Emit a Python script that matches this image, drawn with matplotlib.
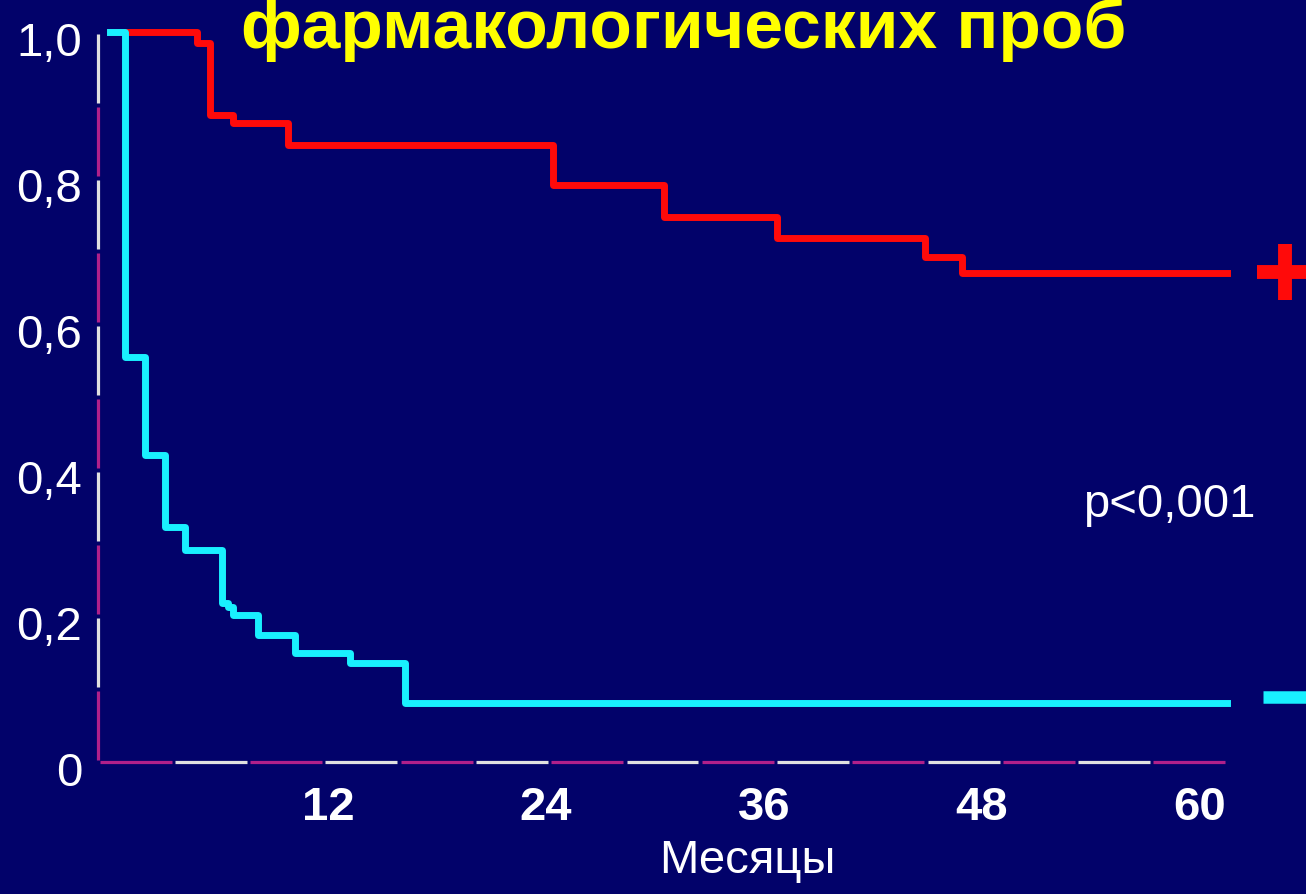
import numpy as np
import matplotlib
matplotlib.use("Agg")
import matplotlib.pyplot as plt
import matplotlib.transforms as mtransforms

# survival curves (months, proportion)
red_t = [0, 4.8, 5.5, 6.8, 9.8, 24.4, 30.5, 36.7, 44.9, 46.9, 61.5]
red_s = [1.0, 0.985, 0.886, 0.875, 0.845, 0.790, 0.746, 0.718, 0.692, 0.670, 0.670]

cyan_t = [0, 0.83, 1.93, 3.03, 4.13, 6.17, 6.5, 6.8, 8.15, 10.2, 13.2, 16.25, 61.5]
cyan_s = [1.0, 0.555, 0.421, 0.322, 0.290, 0.218, 0.212, 0.201, 0.174, 0.149, 0.136, 0.081, 0.081]

xticks = [12, 24, 36, 48, 60]
yticks = [0, 0.2, 0.4, 0.6, 0.8, 1.0]
ylabels = ["0", "0,2", "0,4", "0,6", "0,8", "1,0"]

bg = "#02026a"
red = "#ff0a0a"
cyan = "#19f0ff"

plt.rcParams['font.family'] = ['Liberation Sans', 'DejaVu Sans']

fig = plt.figure(figsize=(13.06, 8.94), dpi=100, facecolor=bg)
ax = fig.add_axes([98/1306, 1 - 762/894, 1129/1306, 730/894])
ax.set_facecolor(bg)

ax.step(red_t, red_s, where='post', color=red, lw=5, clip_on=False)
ax.step(cyan_t, cyan_s, where='post', color=cyan, lw=5, clip_on=False)

# end-of-curve symbols to the right of the axis
ax.plot([64.7], [0.671], marker='+', ms=40, mew=10, color=red, clip_on=False)
ax.plot([65.0], [0.089], marker='_', ms=40, mew=9, color=cyan, clip_on=False)

ax.set_xlim(-0.66, 61.5)
ax.set_ylim(0, 1.0)

for s in ax.spines.values():
    s.set_visible(False)

# dashed two-colour axes
nx = 15
edges = np.linspace(0, 1, nx + 1)
g = 0.0015
for i in range(nx):
    c = "#b0208a" if i % 2 == 0 else "#e0e0e0"
    ax.plot([edges[i] + g, edges[i + 1] - g], [0, 0], color=c, lw=2.3,
            transform=ax.transAxes, clip_on=False, solid_capstyle='butt')
ny = 10
edges = np.linspace(0, 1, ny + 1)
g = 0.003
for i in range(ny):
    c = "#b0208a" if i % 2 == 0 else "#e0e0e0"
    ax.plot([0, 0], [edges[i] + g, edges[i + 1] - g], color=c, lw=2.3,
            transform=ax.transAxes, clip_on=False, solid_capstyle='butt')

ax.set_xticks(xticks)
ax.set_xticklabels([str(v) for v in xticks], fontsize=34, fontweight='bold', color='white')
ax.set_yticks(yticks)
ax.set_yticklabels(ylabels, fontsize=34, color='white')
ax.tick_params(axis='x', length=0, pad=17)
ax.tick_params(axis='y', length=0, pad=11.5)

off = mtransforms.ScaledTranslation(0, -0.07, fig.dpi_scale_trans)
for lab in ax.get_yticklabels():
    lab.set_transform(lab.get_transform() + off)

ax.set_xlabel("Месяцы", fontsize=34, color='white', va='top')
ax.xaxis.set_label_coords(0.575, -0.105)

ax.text(53.55, 0.336, "p<0,001", fontsize=34, color='white', va='baseline', ha='left')

fig.text(684/1306, 1 - 48/894, "фармакологических проб", fontsize=50,
         fontweight='bold', color='#ffff00', ha='center', va='baseline')

fig.savefig("out.png", dpi=100, facecolor=bg)
